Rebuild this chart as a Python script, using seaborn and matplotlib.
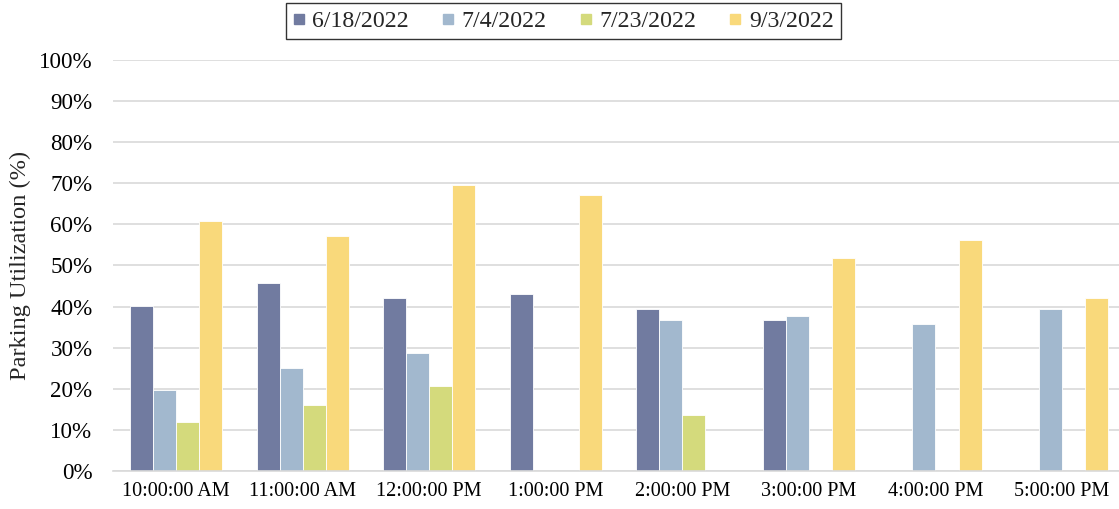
import matplotlib
matplotlib.use("Agg")
import matplotlib.pyplot as plt
from matplotlib.lines import Line2D
import seaborn as sns
import pandas as pd
import numpy as np
from matplotlib.ticker import FuncFormatter

times = ["10:00:00 AM", "11:00:00 AM", "12:00:00 PM", "1:00:00 PM",
         "2:00:00 PM", "3:00:00 PM", "4:00:00 PM", "5:00:00 PM"]
dates = ["6/18/2022", "7/4/2022", "7/23/2022", "9/3/2022"]
v_0618 = [40.2, 45.7, 42.1, 43.0, 39.4, 36.7, np.nan, np.nan]
v_0704 = [19.7, 25.1, 28.6, np.nan, 36.7, 37.6, 35.8, 39.4]
v_0723 = [11.8, 16.1, 20.7, np.nan, 13.5, np.nan, np.nan, np.nan]
v_0903 = [60.8, 57.2, 69.6, 67.1, np.nan, 51.9, 56.2, 42.1]
colors = ["#717BA0", "#A2B8CE", "#D4DA7C", "#F9D97B"]

rows = []
for d, vals in zip(dates, [v_0618, v_0704, v_0723, v_0903]):
    for t, v in zip(times, vals):
        rows.append({"time": t, "date": d, "value": v})
df = pd.DataFrame(rows).dropna()

sns.set_theme(style="white")
plt.rcParams["font.family"] = ["Liberation Serif", "DejaVu Serif"]

fig = plt.figure(figsize=(11.19, 5.09), dpi=100)
ax = fig.add_axes([0.1007, 0.0747, 0.905, 0.8075])
sns.barplot(data=df, x="time", y="value", hue="date", order=times,
            hue_order=dates, palette=colors, width=0.727, ax=ax,
            edgecolor="white", linewidth=0.6, saturation=1, errorbar=None)

ax.set_ylim(0, 100)
ax.set_yticks(np.arange(0, 101, 10))
ax.yaxis.set_major_formatter(FuncFormatter(lambda v, p: f"{int(v)}%"))
ax.set_xlim(-0.5, len(times) - 0.5)
ax.grid(axis="y", color="#D9D9D9", linewidth=1.2)
ax.set_axisbelow(True)
for s in ["left", "right", "top"]:
    ax.spines[s].set_visible(False)
ax.spines["bottom"].set_color("#D9D9D9")
ax.spines["bottom"].set_linewidth(1.2)
ax.tick_params(axis="y", length=0, labelsize=16.6, colors="black", pad=14.5)
ax.tick_params(axis="x", length=0, labelsize=14.5, colors="black", pad=8)
ax.set_xlabel("")
ax.set_ylabel("Parking Utilization (%)", fontsize=17.6, labelpad=6)

ax.legend_.remove()
handles = [Line2D([0], [0], marker="s", linestyle="none", markersize=7.5,
                  markerfacecolor=c, markeredgecolor=c) for c in colors]
leg = fig.legend(handles, dates, loc="center", bbox_to_anchor=(0.5036, 0.958),
                 ncol=4, fontsize=17.2, frameon=True, fancybox=False,
                 handlelength=0.45, handletextpad=0.35,
                 columnspacing=1.4, borderpad=0.3, borderaxespad=0)
leg.get_frame().set_edgecolor("black")
leg.get_frame().set_linewidth(1.0)

fig.savefig("out.png", dpi=100)
